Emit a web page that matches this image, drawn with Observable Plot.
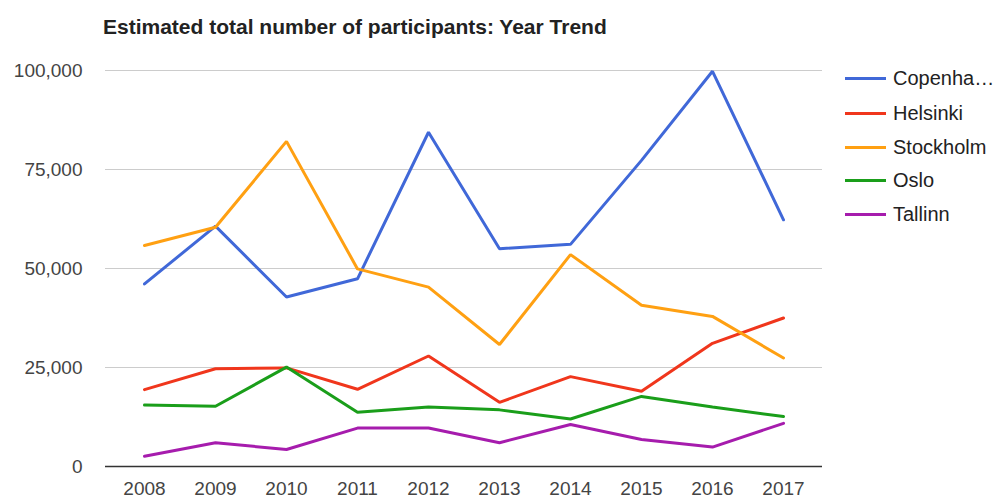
<!DOCTYPE html>
<html><head><meta charset="utf-8">
<script src="https://cdn.jsdelivr.net/npm/d3@7"></script>
<script src="https://cdn.jsdelivr.net/npm/@observablehq/plot@0.6"></script>
<style>
body{margin:0;background:#fff;font-family:"Liberation Sans",Arial,sans-serif;}
#wrap{position:relative;width:997px;height:500px;overflow:hidden;}
#chart{position:absolute;left:0;top:0;}
#title{position:absolute;left:103px;top:15px;font-weight:bold;font-size:21px;color:#222;white-space:nowrap;}
#legend{position:absolute;left:845px;top:0;}
.item{position:absolute;left:0;height:24px;display:flex;align-items:center;white-space:nowrap;font-size:20px;color:#222;}
.sw{width:41px;height:3px;margin-right:7px;}
</style></head><body>
<div id="wrap"><div id="chart"></div><div id="title">Estimated total number of participants: Year Trend</div><div id="legend"></div></div>
<script>
const years = [2008, 2009, 2010, 2011, 2012, 2013, 2014, 2015, 2016, 2017];
const cities = ["Copenhagen", "Helsinki", "Stockholm", "Oslo", "Tallinn"];
const legendLabels = ["Copenha…", "Helsinki", "Stockholm", "Oslo", "Tallinn"];
const colors = ["#4068d8", "#f0361c", "#ffa012", "#1a9e1a", "#a61cad"];
const copenhagen = [46100, 60700, 42800, 47400, 84400, 55000, 56100, 77300, 99800, 62300];
const helsinki = [19400, 24700, 24900, 19500, 27900, 16200, 22700, 19000, 31100, 37500];
const stockholm = [55800, 60400, 82100, 49900, 45300, 30800, 53500, 40700, 37900, 27400];
const oslo = [15500, 15200, 25100, 13700, 15000, 14300, 12000, 17700, 15000, 12600];
const tallinn = [2600, 6000, 4300, 9700, 9700, 6000, 10600, 6800, 4900, 10900];
const yTicks = [0, 25000, 50000, 75000, 100000];

const seriesValues = [copenhagen, helsinki, stockholm, oslo, tallinn];
const data = [];
cities.forEach((c, i) => years.forEach((y, j) => data.push({city: c, year: y, value: seriesValues[i][j]})));

const chart = Plot.plot({
  width: 997, height: 500,
  marginLeft: 105, marginRight: 175, marginTop: 70, marginBottom: 34,
  style: {fontFamily: "'Liberation Sans', Arial, sans-serif", fontSize: "19px", color: "#444", background: "#fff"},
  x: {type: "point", domain: years, padding: 0.5, label: null},
  y: {domain: [0, 100000], label: null},
  color: {domain: cities, range: colors},
  marks: [
    Plot.gridY(yTicks, {stroke: "#cccccc", strokeOpacity: 1}),
    Plot.ruleY([0], {stroke: "#333", strokeWidth: 1.3}),
    Plot.axisY(yTicks, {tickSize: 0, tickPadding: 23, tickFormat: d3.format(","), fill: "#444"}),
    Plot.axisX({tickSize: 0, tickPadding: 15, tickFormat: d => String(d), fill: "#444"}),
    Plot.line(data, {x: "year", y: "value", z: "city", stroke: "city", strokeWidth: 3, strokeLinejoin: "miter"})
  ]
});
document.getElementById("chart").appendChild(chart);

const rowY = [78, 113, 147, 180, 214];
const legend = document.getElementById("legend");
cities.forEach((c, i) => {
  const d = document.createElement("div");
  d.className = "item";
  d.style.top = (rowY[i] - 12) + "px";
  d.innerHTML = `<span class="sw" style="background:${colors[i]}"></span><span>${legendLabels[i]}</span>`;
  legend.appendChild(d);
});
</script>
</body></html>
